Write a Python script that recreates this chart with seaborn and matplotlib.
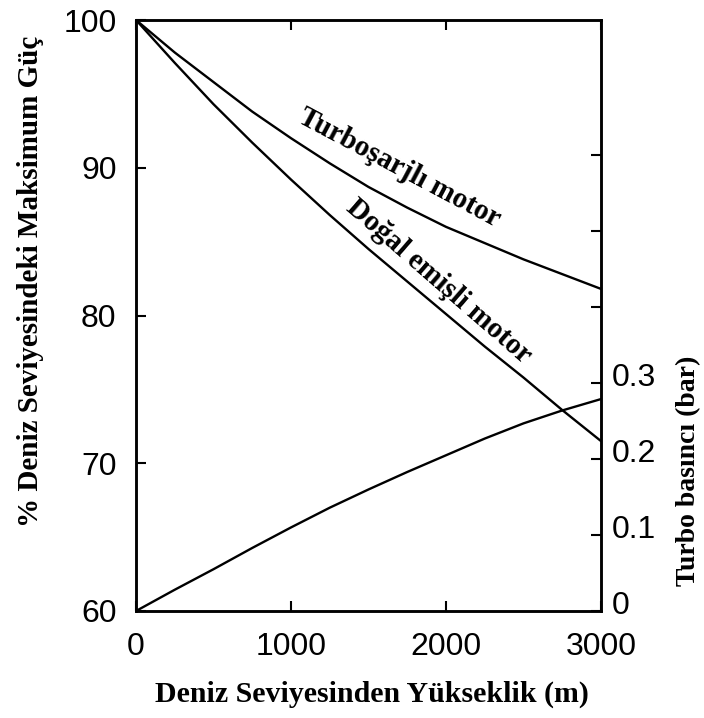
import matplotlib
matplotlib.use("Agg")
import matplotlib.pyplot as plt
import matplotlib.transforms as mtransforms
import seaborn as sns
import pandas as pd

# ---- data ----
altitude_m = [0, 250, 500, 750, 1000, 1250, 1500, 1750, 2000, 2250, 2500, 2750, 3000]
turbo_power = [100, 97.8, 95.8, 93.8, 92.0, 90.3, 88.7, 87.3, 86.0, 84.9, 83.8, 82.8, 81.8]   # Turboşarjlı motor (%)
na_power = [100, 97.1, 94.3, 91.7, 89.2, 86.8, 84.5, 82.3, 80.1, 77.9, 75.8, 73.6, 71.5]      # Doğal emişli motor (%)
boost_bar = [0, 0.028, 0.055, 0.083, 0.11, 0.136, 0.16, 0.183, 0.205, 0.227, 0.247, 0.264, 0.279]  # bar

x_ticks = [0, 1000, 2000, 3000]
left_ticks = [60, 70, 80, 90, 100]
right_ticks = [0, 0.1, 0.2, 0.3, 0.4, 0.5, 0.6]
right_labels = ["0", "0.1", "0.2", "0.3", "", "", ""]

sns.set_theme(style="ticks")
plt.rcParams["font.family"] = ["Liberation Sans", "DejaVu Sans"]
plt.rcParams["text.color"] = "black"

df = pd.DataFrame({"alt": altitude_m, "turbo": turbo_power, "na": na_power, "boost": boost_bar})

fig = plt.figure(figsize=(7.04, 7.18), dpi=100)
ax = fig.add_axes([136 / 704, 1 - 611 / 718, 465 / 704, 591 / 718])

sns.lineplot(data=df, x="alt", y="turbo", ax=ax, color="black", lw=1.7)
sns.lineplot(data=df, x="alt", y="na", ax=ax, color="black", lw=1.7)
ax.set_xlim(0, 3000)
ax.set_ylim(60, 100)
ax.set_xticks(x_ticks)
ax.set_xticklabels([str(v) for v in x_ticks])
ax.set_yticks(left_ticks)
ax.set_yticklabels([str(v) for v in left_ticks])

ax2 = ax.twinx()
sns.lineplot(data=df, x="alt", y="boost", ax=ax2, color="black", lw=1.7)
ax2.set_ylim(0, 0.778)
ax2.set_yticks(right_ticks)
ax2.set_yticklabels(right_labels)

for a in (ax, ax2):
    for s in a.spines.values():
        s.set_linewidth(1.8)
        s.set_color("black")

ax.tick_params(axis="both", direction="in", length=7, width=1.5, labelsize=23,
               top=True, right=False, colors="black")
ax.tick_params(axis="x", pad=15)
ax.tick_params(axis="y", pad=14)
ax2.tick_params(axis="y", direction="in", length=7, width=1.5, labelsize=23, pad=8, colors="black")
ax2.tick_params(axis="x", top=True, direction="in", length=7, width=1.5)

# right-hand tick labels sit slightly above their ticks in the reference
shift = mtransforms.ScaledTranslation(0, 9 / 100, fig.dpi_scale_trans)
for lab in ax2.get_yticklabels():
    lab.set_transform(lab.get_transform() + shift)

serif = {"family": ["Liberation Serif", "DejaVu Serif"], "weight": "bold", "color": "black"}
ax.set_xlabel("Deniz Seviyesinden Yükseklik (m)", fontdict=serif, fontsize=21.5)
ax.set_ylabel("% Deniz Seviyesindeki Maksimum Güç", fontdict=serif, fontsize=21)
ax2.set_ylabel("Turbo basıncı (bar)", fontdict=serif, fontsize=20)
ax.xaxis.set_label_coords(0.508, -0.118)
ax.yaxis.set_label_coords(-0.198, 0.558)
ax2.yaxis.set_label_coords(1.162, 0.237)

ax.text(1703, 90.0, "Turboşarjlı motor", fontdict=serif, fontsize=21, rotation=-28,
        ha="center", va="center", rotation_mode="anchor")
ax.text(1955, 82.3, "Doğal emişli motor", fontdict=serif, fontsize=21, rotation=-41,
        ha="center", va="center", rotation_mode="anchor")

fig.savefig("out.png", dpi=100)
